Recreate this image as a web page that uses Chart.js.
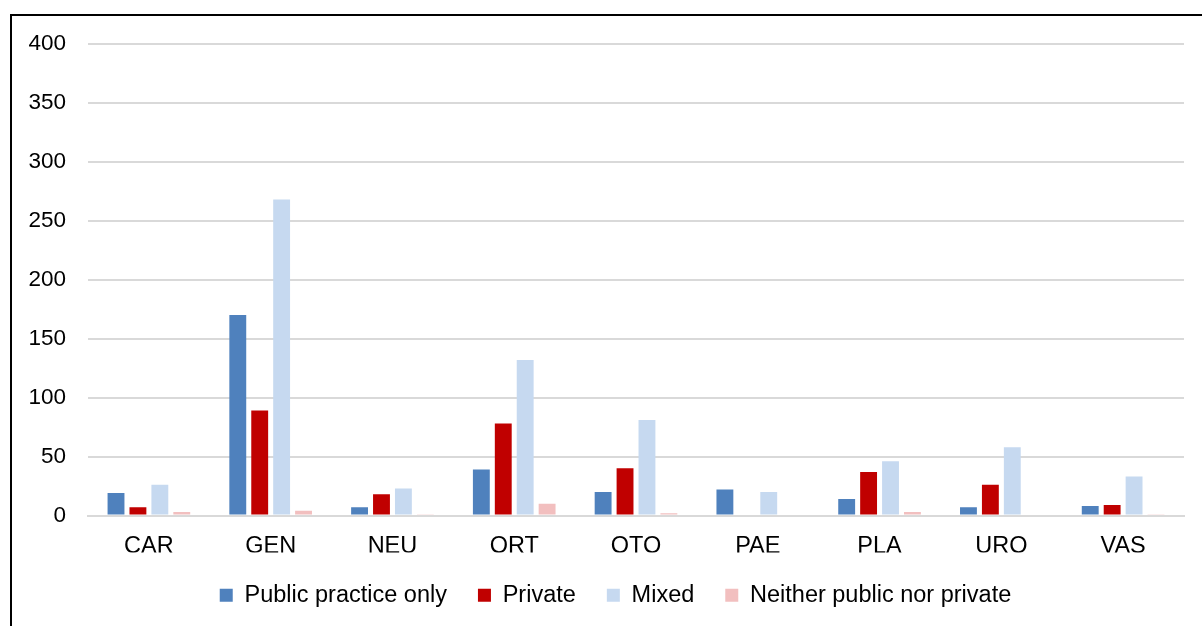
<!DOCTYPE html>
<html>
<head>
<meta charset="utf-8">
<script src="https://cdn.jsdelivr.net/npm/chart.js@4/dist/chart.umd.min.js"></script>
<style>
  html, body { margin: 0; padding: 0; background: #fff; overflow: hidden; }
  #frame { position: absolute; left: 10px; top: 14px; width: 1400px; height: 800px;
           border: 2px solid #000; box-sizing: border-box; }
  #wrap { position: absolute; left: 0; top: 0; width: 1202px; height: 626px; }
</style>
</head>
<body>
<div id="frame"></div>
<div id="wrap"><canvas id="c" width="1202" height="626"></canvas></div>
<script>
// Specialties
const categories = ['CAR', 'GEN', 'NEU', 'ORT', 'OTO', 'PAE', 'PLA', 'URO', 'VAS'];

// Counts by practice type
const publicOnly = [19, 170, 7, 39, 20, 22, 14, 7, 8];
const privateOnly = [7, 89, 18, 78, 40, 0, 37, 26, 9];
const mixed = [26, 268, 23, 132, 81, 20, 46, 58, 33];
const neither = [3, 4, 1, 10, 2, 0, 3, 0, 1];

const seriesNames = ['Public practice only', 'Private', 'Mixed', 'Neither public nor private'];
const yTicks = [0, 50, 100, 150, 200, 250, 300, 350, 400];

const colors = ['#4F81BD', '#C00000', '#C6D9F0', '#F2BFBF'];
const series = [publicOnly, privateOnly, mixed, neither];

const family = '"Liberation Sans", Arial, sans-serif';

// Centre the legend row a little to the right of the canvas centre
const legendOffset = {
  id: 'legendOffset',
  beforeDraw(chart) {
    if (chart.legend) chart.legend.left = 47;
  }
};

new Chart(document.getElementById('c'), {
  type: 'bar',
  data: {
    labels: categories,
    datasets: series.map((vals, i) => ({
      label: seriesNames[i],
      data: vals,
      backgroundColor: colors[i],
      borderWidth: 0,
      barPercentage: 0.77,
      categoryPercentage: 0.72
    }))
  },
  plugins: [legendOffset],
  options: {
    responsive: false,
    animation: false,
    layout: { padding: { top: 44, right: 18, left: 0, bottom: 9 } },
    plugins: {
      tooltip: { enabled: false },
      legend: {
        position: 'bottom',
        labels: {
          font: { family, size: 23.5 },
          color: '#000',
          boxWidth: 13,
          boxHeight: 13,
          padding: 31
        }
      }
    },
    scales: {
      x: {
        afterFit: (scale) => { scale.height = 37; },
        grid: { display: false, drawTicks: false },
        border: { display: true, color: '#D9D9D9', width: 2 },
        ticks: { font: { family, size: 23.5 }, color: '#000', padding: 17 }
      },
      y: {
        min: 0,
        max: 400,
        afterBuildTicks: (scale) => { scale.ticks = yTicks.map(v => ({ value: v })); },
        afterFit: (scale) => { scale.width = 88; },
        grid: { color: '#D9D9D9', lineWidth: 2, drawTicks: false },
        border: { display: false },
        ticks: { font: { family, size: 22.5 }, color: '#000', padding: 22 }
      }
    }
  }
});
</script>
</body>
</html>
